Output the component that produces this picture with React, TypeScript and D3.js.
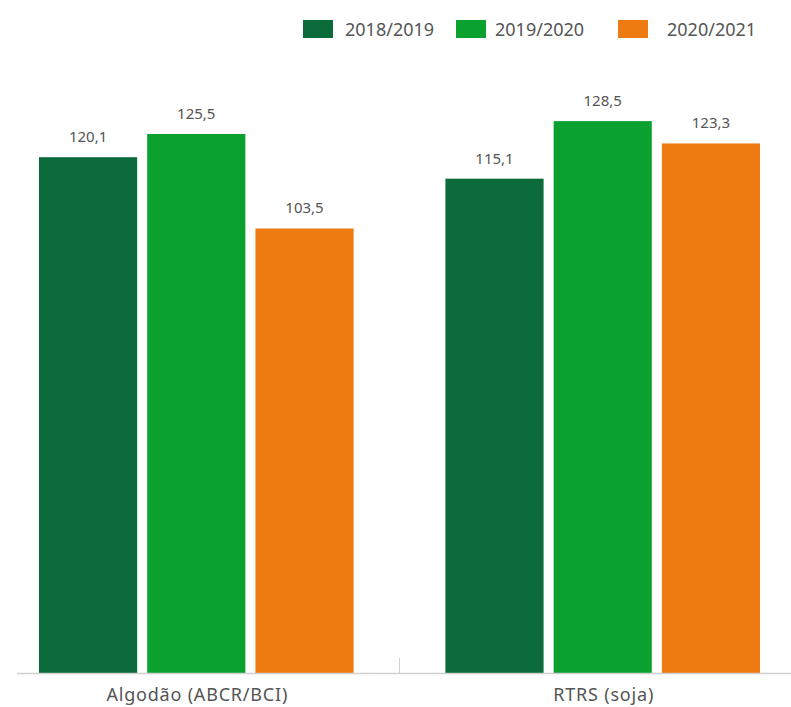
import React from "react";
import * as d3 from "d3";

const categories = ["Algodão (ABCR/BCI)", "RTRS (soja)"];
const seriesNames = ["2018/2019", "2019/2020", "2020/2021"];
const values2018 = [120.1, 115.1];
const values2019 = [125.5, 128.5];
const values2020 = [103.5, 123.3];
const colors = ["#0b6b3a", "#0aa12f", "#ee7a12"];

const W = 791;
const H = 707;
const baseY = 673;
const fmt = (v: number) => v.toFixed(1).replace(".", ",");

export default function App() {
  const series = [values2018, values2019, values2020];
  const x0 = d3.scaleBand<string>().domain(categories).range([39, 760]).paddingInner(0.226).paddingOuter(0);
  const x1 = d3.scaleBand<string>().domain(seriesNames).range([0, x0.bandwidth()]).paddingInner(0.093).paddingOuter(0);
  const y = d3.scaleLinear().domain([0, 125.5]).range([baseY, 134]);
  const font = "'Noto Sans', sans-serif";
  const tickX = (x0(categories[0])! + x0.bandwidth() + x0(categories[1])!) / 2;
  const legendX = [303, 456, 618];
  const legendTextX = [345, 495, 667];
  return (
    <svg width={W} height={H} style={{ position: "absolute", left: 0, top: 0, background: "#fff" }} fontFamily={font}>
      {seriesNames.map((s, i) => (
        <g key={s}>
          <rect x={legendX[i]} y={20} width={30} height={18} fill={colors[i]} />
          <text x={legendTextX[i]} y={36} fontSize={18} fill="#555">{s}</text>
        </g>
      ))}
      {categories.map((c, ci) => (
        <g key={c} transform={`translate(${x0(c)},0)`}>
          {seriesNames.map((s, si) => {
            const v = series[si][ci];
            return (
              <g key={s}>
                <rect x={x1(s)} y={y(v)} width={x1.bandwidth()} height={baseY - y(v)} fill={colors[si]} />
                <text x={x1(s)! + x1.bandwidth() / 2} y={y(v) - 15} textAnchor="middle" fontSize={15} fill="#555">{fmt(v)}</text>
              </g>
            );
          })}
          <text x={x0.bandwidth() / 2 + 1} y={701} textAnchor="middle" fontSize={18} letterSpacing={0.8} fill="#555">{c}</text>
        </g>
      ))}
      <line x1={17} x2={791} y1={baseY + 0.5} y2={baseY + 0.5} stroke="#d0d0d0" strokeWidth={1.5} />
      <line x1={tickX} x2={tickX} y1={658} y2={baseY} stroke="#d0d0d0" strokeWidth={1} />
    </svg>
  );
}
